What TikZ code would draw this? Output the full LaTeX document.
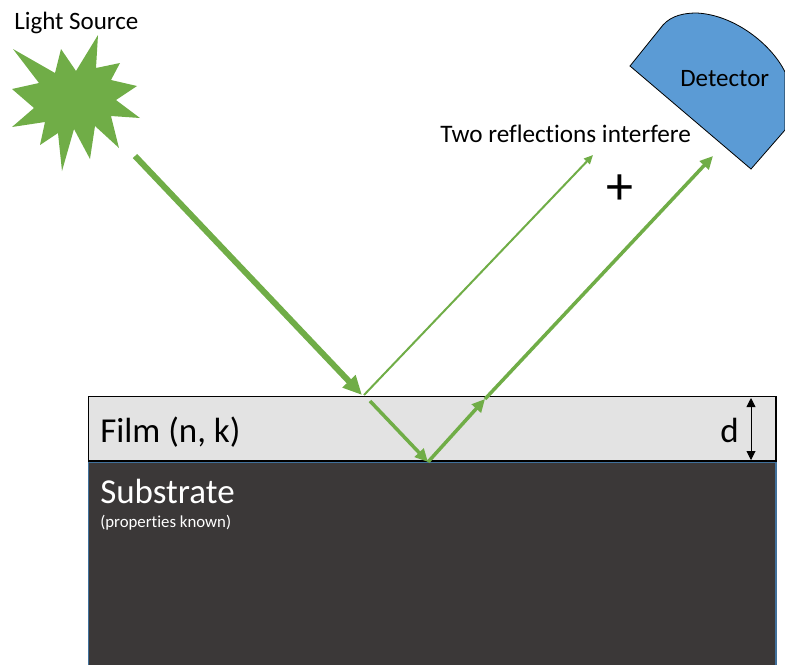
\documentclass[tikz,border=0pt]{standalone}
\usepackage{fontspec}
\setmainfont[Ligatures=NoCommon]{Carlito}
\usepackage{xcolor}
\usetikzlibrary{arrows.meta}
\definecolor{raygreen}{HTML}{70AD47}
\definecolor{detblue}{HTML}{5B9BD5}
\definecolor{filmgray}{HTML}{E3E3E3}
\definecolor{subdark}{HTML}{3B3838}
\definecolor{subedge}{HTML}{41719C}
\tikzset{
    ray/.style={raygreen, line width=#1},
    lbl/.style={inner sep=0pt, anchor=base west},
}
\begin{document}
\begin{tikzpicture}[x=1pt,y=-1pt,semithick]
            \useasboundingbox (0,0) rectangle (785,665);

            % film and substrate
            \fill[subdark] (88.5,462) rectangle (776,665);
            \draw[subedge, line width=1.2pt] (88.5,665)--(88.5,462)--(776,462)--(776,665);
            \draw[fill=filmgray, line width=1.2pt] (88.5,396.5) rectangle (776,461);

            % source and detector
            \fill[raygreen] (13,49)--(55,73)--(61,49)--(76,71)--(98,35)--(96,68)--(120,63)--(111,80)--(137,86)--(116,100)--(140,118)--(111,116)--(119,148)--(95,126)--(90,159)--(74,129)--(62,171)--(58,133)--(40,145)--(45,122)--(12,127)--(34,108)--(12,89)--(39,83)--cycle;
            \draw[fill=detblue, line width=0.8pt] (630,66)--(663,25) .. controls (672,15) and (685,13) .. (697,13) .. controls (735,15) and (772,45) .. (785,72)--(785,130)--(751,169)--cycle;

            % ray end points
            \coordinate (src) at (135,156);
            \coordinate (hit) at (362,395);
            \coordinate (top) at (364,395);
            \coordinate (mid) at (593,155);
            \coordinate (inA) at (370,401);
            \coordinate (bot) at (428,462);
            \coordinate (exit) at (485,399);
            \coordinate (det) at (713,156);
            \coordinate (dT) at (751,398);
            \coordinate (dB) at (751,460);

            \draw[ray=6pt, -{Triangle[length=19pt,width=17pt]}] (src)--(hit);
            \draw[ray=2pt, -{Triangle[length=9pt,width=8pt]}] (top)--(mid);
            \draw[ray=3.5pt, -{Triangle[length=13pt,width=12pt]}] (inA)--(bot);
            \draw[ray=3.5pt, -{Triangle[length=13pt,width=12pt]}] (bot)--(exit);
            \draw[ray=3.5pt, -{Triangle[length=13pt,width=12pt]}] (exit)--(det);
            \draw[line width=0.9pt, {Triangle[length=9pt,width=9pt]}-{Triangle[length=9pt,width=9pt]}] (dT)--(dB);

            % labels
            \node[lbl] (lightlabel) at (14,29) {\fontsize{25}{28}\selectfont Light Source};
            \node[lbl] (twolabel) at (440,142) {\fontsize{25.2}{28}\selectfont Two reflections interfere};
            \node[lbl] (detlabel) at (680,86) {\fontsize{25}{28}\selectfont Detector};
            \node[lbl] (pluslabel) at (606,204) {\fontsize{54}{58}\selectfont +};
            \node[lbl] (filmlabel) at (100,442) {\fontsize{35}{38}\selectfont Film (n, k)};
            \node[lbl] (dlabel) at (720,442) {\fontsize{35}{38}\selectfont d};
            \node[lbl,white] (sublabel) at (100,503) {\fontsize{35}{38}\selectfont Substrate};
            \node[lbl,white] (proplabel) at (100,527) {\fontsize{16.8}{20}\selectfont (properties known)};
        \end{tikzpicture}
\end{document}
